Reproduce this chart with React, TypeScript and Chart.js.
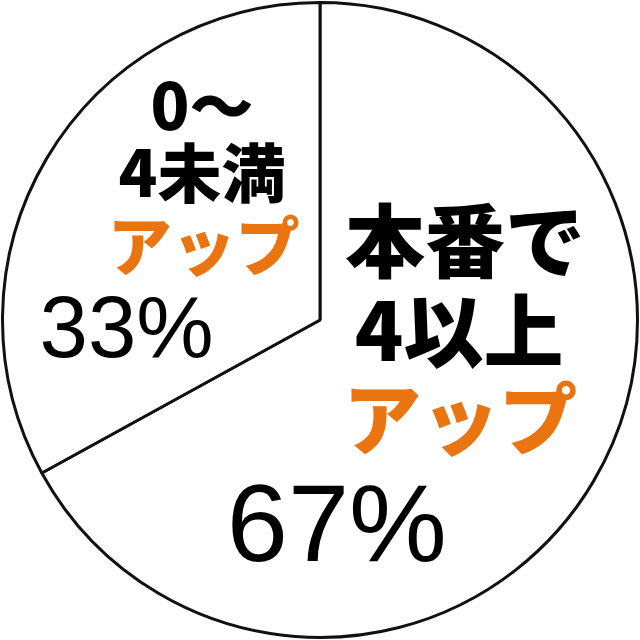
import { useEffect, useRef } from 'react';
import { Chart, registerables } from 'chart.js';

Chart.register(...registerables);

// slice values, clockwise from 12 o'clock
const sliceNames = ['本番で4以上アップ', '0～4未満アップ'];
const sliceShares = [67, 33];

// text lines written inside each slice
const bigSliceLines = ['本番で', '4以上', 'アップ', '67%'];
const smallSliceLines = ['0～', '4未満', 'アップ', '33%'];

const ORANGE = '#ea7410';
const JP_FONT = '"Noto Sans CJK JP", "Noto Sans", sans-serif';
const NUM_FONT = '"Liberation Sans", Arial, sans-serif';

/**
 * Draws stacked label lines inside each arc, offsets given as fractions of the radius
 */
const sliceTextPlugin = {
  id: 'sliceText',
  afterDatasetsDraw(chart: any, _args: any, opts: any) {
    const meta = chart.getDatasetMeta(0);
    const ctx = chart.ctx;
    ctx.save();
    ctx.textAlign = 'center';
    ctx.textBaseline = 'middle';
    meta.data.forEach((arc: any, i: number) => {
      const r = arc.outerRadius;
      const lines = opts.lines[i] || [];
      const layout = opts.layout[i] || [];
      lines.forEach((text: string, j: number) => {
        const l = layout[j];
        if (!l) return;
        ctx.font = `${l.weight} ${Math.round(l.size * r)}px ${l.family}`;
        ctx.fillStyle = l.color;
        ctx.fillText(text, arc.x + l.dx * r, arc.y + l.dy * r);
      });
    });
    ctx.restore();
  }
};

export default function App() {
  const canvasRef = useRef<HTMLCanvasElement | null>(null);
  const chartInstance = useRef<Chart | null>(null);

  useEffect(() => {
    document.body.style.margin = '0';
    if (!canvasRef.current) return;

    if (chartInstance.current) {
      chartInstance.current.destroy();
      chartInstance.current = null;
    }

    chartInstance.current = new Chart(canvasRef.current, {
      type: 'pie',
      data: {
        labels: sliceNames,
        datasets: [{
          data: sliceShares,
          backgroundColor: '#ffffff',
          borderColor: '#111111',
          borderWidth: 3,
          borderAlign: 'center'
        }]
      },
      plugins: [sliceTextPlugin],
      options: {
        responsive: true,
        maintainAspectRatio: false,
        animation: false,
        layout: { padding: 1 },
        plugins: {
          legend: { display: false },
          tooltip: { enabled: false },
          sliceText: {
            lines: [bigSliceLines, smallSliceLines],
            layout: [
              [
                { dx: 0.457, dy: -0.249, size: 0.252, weight: 900, family: JP_FONT, color: '#000000' },
                { dx: 0.438, dy: 0.032, size: 0.252, weight: 900, family: JP_FONT, color: '#000000' },
                { dx: 0.442, dy: 0.312, size: 0.245, weight: 900, family: JP_FONT, color: ORANGE },
                { dx: 0.053, dy: 0.664, size: 0.345, weight: 400, family: NUM_FONT, color: '#000000' }
              ],
              [
                { dx: -0.372, dy: -0.675, size: 0.2, weight: 900, family: JP_FONT, color: '#000000' },
                { dx: -0.372, dy: -0.464, size: 0.2, weight: 900, family: JP_FONT, color: '#000000' },
                { dx: -0.366, dy: -0.233, size: 0.2, weight: 900, family: JP_FONT, color: ORANGE },
                { dx: -0.609, dy: 0.04, size: 0.275, weight: 400, family: NUM_FONT, color: '#000000' }
              ]
            ]
          }
        } as any
      }
    });

    return () => {
      if (chartInstance.current) {
        chartInstance.current.destroy();
        chartInstance.current = null;
      }
    };
  }, []);

  return (
    <div style={{ position: 'relative', width: 640, height: 640, background: '#ffffff' }}>
      <canvas ref={canvasRef} />
    </div>
  );
}
